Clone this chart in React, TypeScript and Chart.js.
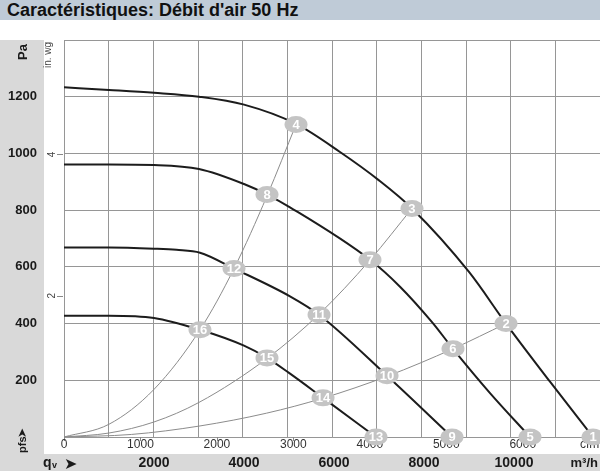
import { useEffect, useRef } from "react";
import { Chart, registerables } from "chart.js";

Chart.register(...registerables);

const FONT = '"Liberation Sans", Arial, Helvetica, sans-serif';

// axis ranges
const FLOW_MIN = 0;
const FLOW_MAX = 11911; // m³/h at right edge
const PA_MIN = 0;
const PA_MAX = 1400;
const M3H_PER_CFM = 1.699;
const PA_PER_INWG = 249.09;

// tick labels
const paTicks = [200, 400, 600, 800, 1000, 1200];
const inwgTicks = [2, 4];
const m3hTicks = [2000, 4000, 6000, 8000, 10000];
const cfmTicks = [0, 1000, 2000, 3000, 4000, 5000, 6000];

// fan curves (m³/h, Pa)
const fan1X = [0, 1000, 2000, 3000, 4000, 5156, 6133, 7000, 7733, 9000, 9822, 10800, 11756];
const fan1Y = [1233, 1224, 1214, 1200, 1172, 1104, 1005, 905, 806, 582, 400, 195, 0];
const fan2X = [0, 1000, 2000, 3000, 4000, 4511, 5022, 6800, 7467, 8178, 8644, 9467, 10356];
const fan2Y = [961, 961, 959, 945, 892, 855, 810, 625, 530, 405, 311, 155, 0];
const fan3X = [0, 1000, 2000, 2500, 3022, 3778, 5022, 5667, 7178, 8622];
const fan3Y = [668, 668, 664, 660, 650, 594, 496, 431, 216, 0];
const fan4X = [0, 1000, 2000, 3022, 4000, 4511, 5000, 5756, 6933];
const fan4Y = [428, 428, 420, 378, 322, 279, 226, 138, 0];

// system curves (m³/h, Pa)
const sysAX = [0, 1000, 2000, 3022, 3778, 4511, 5156];
const sysAY = [0, 45, 168, 378, 594, 850, 1102];
const sysBX = [0, 1000, 2000, 3000, 4511, 5667, 6800, 7733];
const sysBY = [0, 14, 53, 122, 277, 433, 624, 806];
const sysCX = [0, 1500, 3022, 4500, 5756, 7178, 8644, 9822];
const sysCY = [0, 9, 39, 84, 137, 214, 311, 400];

// operating point markers
const markerLabels = ["1", "2", "3", "4", "5", "6", "7", "8", "9", "10", "11", "12", "13", "14", "15", "16"];
const markerX = [11756, 9822, 7733, 5156, 10356, 8644, 6800, 4511, 8622, 7178, 5667, 3778, 6933, 5756, 4511, 3022];
const markerY = [0, 400, 806, 1102, 0, 311, 625, 855, 0, 216, 431, 594, 0, 138, 279, 378];

const toPts = (xs: number[], ys: number[]) => xs.map((x, i) => ({ x, y: ys[i] }));

const fanDs = (xs: number[], ys: number[]) => ({
  type: "line" as const,
  data: toPts(xs, ys),
  borderColor: "#1c1c1c",
  borderWidth: 2,
  pointRadius: 0,
  fill: false,
  cubicInterpolationMode: "monotone" as const,
});
const sysDs = (xs: number[], ys: number[]) => ({
  type: "line" as const,
  data: toPts(xs, ys),
  borderColor: "#8c8c8c",
  borderWidth: 1,
  pointRadius: 0,
  fill: false,
  cubicInterpolationMode: "monotone" as const,
});

const decor = {
  id: "decor",
  beforeDraw(chart: any) {
    const ctx = chart.ctx as CanvasRenderingContext2D;
    ctx.save();
    ctx.fillStyle = "#ffffff";
    ctx.fillRect(0, 0, chart.width, chart.height);
    ctx.fillStyle = "#d9d9d9";
    ctx.fillRect(0, 40, 44, 414);
    ctx.fillRect(0, 454, chart.width, chart.height - 454);
    ctx.restore();
  },
  afterDraw(chart: any) {
    const ctx = chart.ctx as CanvasRenderingContext2D;
    const xs = chart.scales.x;
    const ys = chart.scales.y;
    const area = chart.chartArea;
    ctx.save();

    // Pa labels
    ctx.fillStyle = "#1a1a1a";
    ctx.font = `bold 13px ${FONT}`;
    ctx.textAlign = "right";
    ctx.textBaseline = "middle";
    paTicks.forEach((v) => ctx.fillText(String(v), 37, ys.getPixelForValue(v)));

    // rotated "Pa"
    ctx.save();
    ctx.translate(27, 52);
    ctx.rotate(-Math.PI / 2);
    ctx.textAlign = "center";
    ctx.textBaseline = "alphabetic";
    ctx.fillText("Pa", 0, 0);
    ctx.restore();

    // in. wg
    ctx.fillStyle = "#444";
    ctx.save();
    ctx.translate(51, 55);
    ctx.rotate(-Math.PI / 2);
    ctx.font = `10px ${FONT}`;
    ctx.textAlign = "center";
    ctx.textBaseline = "alphabetic";
    ctx.fillText("in. wg", 0, 0);
    ctx.restore();
    inwgTicks.forEach((v) => {
      const y = ys.getPixelForValue(v * PA_PER_INWG);
      ctx.strokeStyle = "#888";
      ctx.lineWidth = 1;
      ctx.beginPath();
      ctx.moveTo(57, Math.round(y) + 0.5);
      ctx.lineTo(area.left - 1, Math.round(y) + 0.5);
      ctx.stroke();
      ctx.save();
      ctx.translate(55, y);
      ctx.rotate(-Math.PI / 2);
      ctx.font = `10px ${FONT}`;
      ctx.textAlign = "center";
      ctx.textBaseline = "alphabetic";
      ctx.fillText(String(v), 0, 0);
      ctx.restore();
    });

    // cfm ticks & labels
    ctx.strokeStyle = "#888";
    ctx.lineWidth = 1;
    ctx.fillStyle = "#333";
    ctx.font = `12px ${FONT}`;
    ctx.textAlign = "center";
    ctx.textBaseline = "middle";
    cfmTicks.forEach((v) => {
      const x = xs.getPixelForValue(v * M3H_PER_CFM);
      ctx.beginPath();
      ctx.moveTo(Math.round(x) + 0.5, area.bottom);
      ctx.lineTo(Math.round(x) + 0.5, area.bottom + 4);
      ctx.stroke();
      ctx.fillText(String(v), x, area.bottom + 8);
    });
    ctx.textAlign = "left";
    ctx.fillText("cfm", 580, area.bottom + 8);

    // m³/h labels
    ctx.fillStyle = "#1a1a1a";
    ctx.font = `bold 14px ${FONT}`;
    ctx.textAlign = "center";
    ctx.textBaseline = "middle";
    m3hTicks.forEach((v) => ctx.fillText(String(v), xs.getPixelForValue(v), 463));
    ctx.textAlign = "right";
    ctx.font = `bold 13px ${FONT}`;
    ctx.fillText("m³/h", 598, 463);

    // qv arrow
    ctx.textAlign = "left";
    ctx.textBaseline = "alphabetic";
    ctx.font = `bold 14px ${FONT}`;
    ctx.fillText("q", 43, 467);
    ctx.font = `bold 9px ${FONT}`;
    ctx.fillText("v", 52, 468);
    ctx.font = `bold 16px "DejaVu Sans", ${FONT}`;
    ctx.fillText("➤", 64, 469);

    // pfs arrow (rotated)
    ctx.save();
    ctx.translate(26, 453);
    ctx.rotate(-Math.PI / 2);
    ctx.font = `bold 11px ${FONT}`;
    ctx.textAlign = "left";
    ctx.textBaseline = "alphabetic";
    ctx.fillText("pfs", 0, 0);
    ctx.font = `bold 12px "DejaVu Sans", ${FONT}`;
    ctx.fillText("➤", 15, 0);
    ctx.restore();

    // markers
    const idx = chart.data.datasets.length - 1;
    const meta = chart.getDatasetMeta(idx);
    meta.data.forEach((el: any, i: number) => {
      ctx.fillStyle = "#c4c4c4";
      ctx.beginPath();
      ctx.ellipse(el.x, el.y, 11.5, 8.5, 0, 0, Math.PI * 2);
      ctx.fill();
      ctx.fillStyle = "#ffffff";
      ctx.font = `bold 13px ${FONT}`;
      ctx.textAlign = "center";
      ctx.textBaseline = "middle";
      ctx.fillText(markerLabels[i], el.x, el.y + 0.5);
    });

    ctx.restore();
  },
};

export default function App() {
  const ref = useRef<HTMLCanvasElement>(null);
  useEffect(() => {
    if (!ref.current) return;
    const chart = new Chart(ref.current, {
      type: "line",
      data: {
        datasets: [
          sysDs(sysAX, sysAY),
          sysDs(sysBX, sysBY),
          sysDs(sysCX, sysCY),
          fanDs(fan1X, fan1Y),
          fanDs(fan2X, fan2Y),
          fanDs(fan3X, fan3Y),
          fanDs(fan4X, fan4Y),
          {
            type: "scatter" as const,
            data: toPts(markerX, markerY),
            pointRadius: 0,
            showLine: false,
          } as any,
        ],
      },
      options: {
        animation: false,
        responsive: false,
        devicePixelRatio: 1,
        layout: { padding: { left: 64, top: 40, right: 0, bottom: 34 } },
        plugins: { legend: { display: false }, tooltip: { enabled: false }, title: { display: false } },
        events: [],
        scales: {
          x: {
            type: "linear",
            min: FLOW_MIN,
            max: FLOW_MAX,
            ticks: { display: false, stepSize: 1000, includeBounds: false },
            grid: { color: "#969696", lineWidth: 1, drawTicks: false },
            border: { display: true, color: "#969696" },
          },
          y: {
            type: "linear",
            min: PA_MIN,
            max: PA_MAX,
            ticks: { display: false, stepSize: 200 },
            grid: { color: "#969696", lineWidth: 1, drawTicks: false },
            border: { display: true, color: "#969696" },
          },
        },
      },
      plugins: [decor],
    } as any);
    return () => chart.destroy();
  }, []);
  return (
    <div style={{ position: "fixed", left: 0, top: 0, width: 600, height: 471, overflow: "hidden", background: "#fff" }}>
      <canvas ref={ref} width={600} height={471} style={{ position: "absolute", left: 0, top: 0, width: 600, height: 471 }} />
      <div
        style={{
          position: "absolute",
          left: 0,
          top: 0,
          width: 600,
          height: 20,
          background: "#bfcbd7",
          font: `bold 18px ${FONT}`,
          lineHeight: "20px",
          paddingLeft: 7,
          boxSizing: "border-box",
          color: "#111",
          whiteSpace: "nowrap",
        }}
      >
        Caractéristiques: Débit d'air 50 Hz
      </div>
    </div>
  );
}
